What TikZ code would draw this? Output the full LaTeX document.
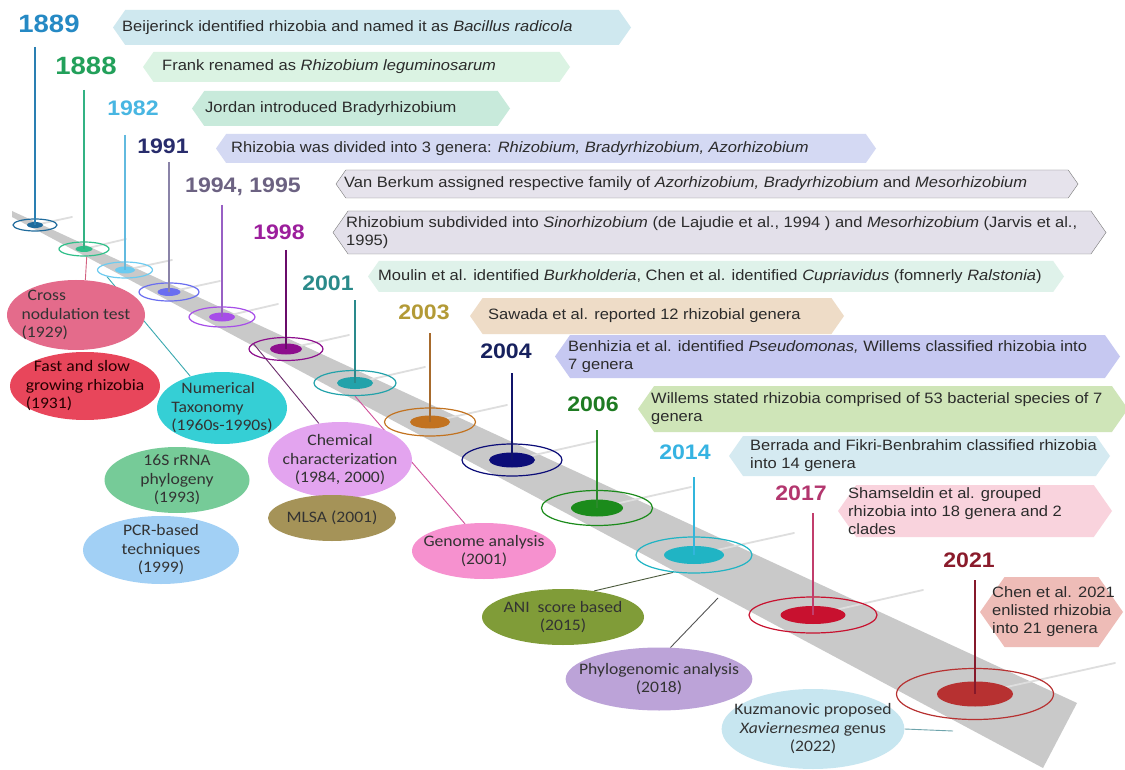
\documentclass[tikz,border=0pt]{standalone}
\usepackage{fontspec}
\setmainfont{Liberation Sans}[FakeStretch=1.1]
\newfontfamily\elipfont{Carlito}[FakeStretch=1.1]
\usepackage{tikz}
\usetikzlibrary{shapes.geometric}

\pgfdeclarelayer{franja}
\pgfdeclarelayer{enlaces}
\pgfsetlayers{franja,enlaces,main}

% colores
\definecolor{banda}{HTML}{C9C9C9}
\definecolor{brillo}{HTML}{DEDEDE}
\definecolor{borde}{HTML}{7A7A7A}
\definecolor{texto}{HTML}{2B2B2B}
% anos
\definecolor{yr1889}{HTML}{2589C4}
\definecolor{yr1888}{HTML}{22A05A}
\definecolor{yr1982}{HTML}{48B6E2}
\definecolor{yr1991}{HTML}{282C6C}
\definecolor{yr1994}{HTML}{6C6282}
\definecolor{yr1998}{HTML}{9C1E9C}
\definecolor{yr2001}{HTML}{2A8A8A}
\definecolor{yr2003}{HTML}{B39A36}
\definecolor{yr2004}{HTML}{17215E}
\definecolor{yr2006}{HTML}{1E7B22}
\definecolor{yr2014}{HTML}{36B3E2}
\definecolor{yr2017}{HTML}{B3366E}
\definecolor{yr2021}{HTML}{8A1B2B}
% postes
\definecolor{pin1889}{HTML}{2A7FB2}
\definecolor{pin1888}{HTML}{33B283}
\definecolor{pin1982}{HTML}{62BADF}
\definecolor{pin1991}{HTML}{8A83A8}
\definecolor{pin1994}{HTML}{9860C4}
\definecolor{pin1998}{HTML}{6A0C6A}
\definecolor{pin2001}{HTML}{2A8A8C}
\definecolor{pin2003}{HTML}{A76A2C}
\definecolor{pin2004}{HTML}{11146A}
\definecolor{pin2006}{HTML}{2B8A2B}
\definecolor{pin2014}{HTML}{31B5DC}
\definecolor{pin2017}{HTML}{C23D6C}
\definecolor{pin2021}{HTML}{86192B}
% discos
\definecolor{disc1889}{HTML}{1F6B9C}
\definecolor{disc1888}{HTML}{2FBF89}
\definecolor{disc1982}{HTML}{6CCBF0}
\definecolor{disc1991}{HTML}{6A6EF0}
\definecolor{disc1994}{HTML}{A64EE8}
\definecolor{disc1998}{HTML}{8D0F8D}
\definecolor{disc2001}{HTML}{22A2AA}
\definecolor{disc2003}{HTML}{C2721F}
\definecolor{disc2004}{HTML}{0C0D78}
\definecolor{disc2006}{HTML}{1B8B1B}
\definecolor{disc2014}{HTML}{20B4C4}
\definecolor{disc2017}{HTML}{C8112F}
\definecolor{disc2021}{HTML}{B73131}
% cajas
\definecolor{bx1889}{HTML}{CFE8EF}
\definecolor{bx1888}{HTML}{DBF3E3}
\definecolor{bx1982}{HTML}{C8EADB}
\definecolor{bx1991}{HTML}{D4D9F3}
\definecolor{bx1994}{HTML}{E6E3EC}
\definecolor{bx1998}{HTML}{E3E0EA}
\definecolor{bx2001}{HTML}{DFF2EA}
\definecolor{bx2003}{HTML}{EEDCC7}
\definecolor{bx2004}{HTML}{C6C8F1}
\definecolor{bx2006}{HTML}{CFE5B8}
\definecolor{bx2014}{HTML}{D5EAF1}
\definecolor{bx2017}{HTML}{F9D3DD}
\definecolor{bx2021}{HTML}{EEBCB7}
% elipses
\definecolor{elCross}{HTML}{E46B8B}
\definecolor{elFast}{HTML}{E8465B}
\definecolor{elNum}{HTML}{35CFD5}
\definecolor{el16S}{HTML}{76CB98}
\definecolor{elPCR}{HTML}{A2D0F5}
\definecolor{elChem}{HTML}{E3A4EF}
\definecolor{elMLSA}{HTML}{A59358}
\definecolor{elGen}{HTML}{F691CF}
\definecolor{elANI}{HTML}{809C38}
\definecolor{elPhy}{HTML}{BCA3D8}
\definecolor{elKuz}{HTML}{C7E6F0}
% enlaces
\definecolor{lkCross}{HTML}{D2607F}
\definecolor{lkNum}{HTML}{3AA9B0}
\definecolor{lkChem}{HTML}{6B2A6B}
\definecolor{lkGen}{HTML}{D0509A}
\definecolor{lkANI}{HTML}{4B5A3C}
\definecolor{lkPhy}{HTML}{555555}
\definecolor{lkKuz}{HTML}{6EA4AC}

% caja con punta a ambos lados: nombre, izq, der, arriba, abajo, x texto, estilo, texto
\newcommand{\evbox}[8]{%
	\path[#7] (#2,{(#4+#5)/2}) -- ({#2+0.35*(#5-#4)},#4) -- ({#3-0.35*(#5-#4)},#4)
		-- (#3,{(#4+#5)/2}) -- ({#3-0.35*(#5-#4)},#5) -- ({#2+0.35*(#5-#4)},#5) -- cycle;
	\node[boxtext, anchor=west] (#1) at (#6,{(#4+#5)/2}) {#8};
}

\begin{document}
\begin{tikzpicture}[x=1pt, y=-1pt,
	boxtext/.style={font=\fontsize{15}{18}\selectfont, text=texto, align=left, inner sep=0pt},
	yearlbl/.style={font=\bfseries\fontsize{21}{21}\selectfont, inner sep=0pt},
	ring/.style={ellipse, draw, line width=1.2pt, inner sep=0pt},
	disc/.style={ellipse, draw=none, inner sep=0pt},
	pinline/.style={line width=2.4pt},
	spike/.style={draw=brillo, line width=1.8pt, line cap=round},
	elip/.style={ellipse, inner xsep=-14pt, inner ysep=-6pt, align=center, text=black!80,
		font=\elipfont\fontsize{16}{18.5}\selectfont},
	link/.style={line width=0.9pt}]

			\useasboundingbox (0,0) rectangle (1125,770);

			% cajas
			\evbox{b1889}{113}{631}{10}{45}{122}{fill=bx1889}{Beijerinck identified rhizobia and named it as \textit{Bacillus radicola}}
			\evbox{b1888}{143}{570}{52}{82}{162}{fill=bx1888}{Frank renamed as \textit{Rhizobium leguminosarum}}
			\evbox{b1982}{192}{510}{91}{126}{205}{fill=bx1982}{Jordan introduced Bradyrhizobium}
			\evbox{b1991}{216}{876}{134}{163}{231}{fill=bx1991}{Rhizobia was divided into 3 genera: \textit{Rhizobium, Bradyrhizobium, Azorhizobium}}
			\evbox{b1994}{336}{1078}{170}{198}{344}{fill=bx1994, draw=borde}{Van Berkum assigned respective family of \textit{Azorhizobium, Bradyrhizobium} and \textit{Mesorhizobium}}
			\evbox{b1998}{333}{1106}{211}{254}{346}{fill=bx1998, draw=borde}{Rhizobium subdivided into \textit{Sinorhizobium} (de Lajudie et al., 1994 ) and \textit{Mesorhizobium} (Jarvis et al.,\\1995)}
			\evbox{b2001}{368}{1064}{261}{292}{378}{fill=bx2001}{Moulin et al. identified \textit{Burkholderia}, Chen et al. identified \textit{Cupriavidus} (fomnerly \textit{Ralstonia})}
			\evbox{b2003}{470}{844}{298}{334}{488}{fill=bx2003}{Sawada et al. reported 12 rhizobial genera}
			\evbox{b2004}{555}{1120}{335}{378}{568}{fill=bx2004}{Benhizia et al. identified \textit{Pseudomonas,} Willems classified rhizobia into\\7 genera}
			\evbox{b2006}{638}{1128}{386}{432}{651}{fill=bx2006}{Willems stated rhizobia comprised of 53 bacterial species of 7\\genera}
			\evbox{b2014}{729}{1110}{436}{476}{750}{fill=bx2014}{Berrada and Fikri-Benbrahim classified rhizobia\\into 14 genera}
			\evbox{b2017}{838}{1112}{485}{537}{848}{fill=bx2017}{Shamseldin et al. grouped\\rhizobia into 18 genera and 2\\clades}
			\evbox{b2021}{980}{1123}{577}{647}{992}{fill=bx2021}{Chen et al. 2021\\enlisted rhizobia\\into 21 genera}

			% anos
			\node[yearlbl, font=\bfseries\fontsize{25}{25}\selectfont, text=yr1889] (y1889) at (49,24) {1889};
			\node[yearlbl, font=\bfseries\fontsize{25}{25}\selectfont, text=yr1888] (y1888) at (86,66) {1888};
			\node[yearlbl, text=yr1982] (y1982) at (133,108) {1982};
			\node[yearlbl, text=yr1991] (y1991) at (163,146) {1991};
			\node[yearlbl, text=yr1994] (y1994) at (243,187) {1994, 1995};
			\node[yearlbl, text=yr1998] (y1998) at (279,232) {1998};
			\node[yearlbl, text=yr2001] (y2001) at (328,283) {2001};
			\node[yearlbl, text=yr2003] (y2003) at (424,312) {2003};
			\node[yearlbl, text=yr2004] (y2004) at (506,351) {2004};
			\node[yearlbl, text=yr2006] (y2006) at (593,404) {2006};
			\node[yearlbl, text=yr2014] (y2014) at (685,452) {2014};
			\node[yearlbl, text=yr2017] (y2017) at (801,493) {2017};
			\node[yearlbl, text=yr2021] (y2021) at (969,560) {2021};

			% elipses
			\node[elip, fill=elCross, align=left, minimum width=138, minimum height=70] (eCross) at (76,315) {\hspace{6pt}Cross\\nodulation test\\(1929)};
			\node[elip, fill=elFast, align=left, text=black!85!red, minimum width=150, minimum height=68] (eFast) at (85,386) {\hspace{8pt}Fast and slow\\growing rhizobia\\(1931)};
			\node[elip, fill=elNum, align=left, minimum width=130, minimum height=72] (eNum) at (222,408) {\hspace{10pt}Numerical\\Taxonomy\\(1960s-1990s)};
			\node[elip, fill=el16S, minimum width=145, minimum height=66] (e16S) at (177,480) {16S rRNA\\phylogeny\\(1993)};
			\node[elip, fill=elPCR, minimum width=156, minimum height=68] (ePCR) at (161,550) {PCR-based\\techniques\\(1999)};
			\node[elip, fill=elChem, minimum width=144, minimum height=76] (eChem) at (340,460) {Chemical\\characterization\\(1984, 2000)};
			\node[elip, fill=elMLSA, minimum width=128, minimum height=46] (eMLSA) at (332,518) {MLSA (2001)};
			\node[elip, fill=elGen, minimum width=144, minimum height=56] (eGen) at (484,551) {Genome analysis\\(2001)};
			\node[elip, fill=elANI, minimum width=162, minimum height=56] (eANI) at (563,617) {ANI~~score based\\(2015)};
			\node[elip, fill=elPhy, minimum width=182, minimum height=63] (ePhy) at (659,679) {Phylogenomic analysis\\(2018)};
			\node[elip, fill=elKuz, minimum width=182, minimum height=80] (eKuz) at (813,729) {Kuzmanovic proposed\\\textit{Xaviernesmea} genus\\(2022)};

			% anillos
			\node[ring, draw=disc1889, minimum width=44, minimum height=12] (r1889) at (35,225) {};
			\node[ring, draw=disc1888, minimum width=50, minimum height=14] (r1888) at (84,249) {};
			\node[ring, draw=disc1982, minimum width=55, minimum height=16] (r1982) at (125,270) {};
			\node[ring, draw=disc1991, minimum width=60, minimum height=18] (r1991) at (169,292) {};
			\node[ring, draw=disc1994, minimum width=66, minimum height=20] (r1994) at (222,317) {};
			\node[ring, draw=disc1998, minimum width=74, minimum height=23] (r1998) at (286,349) {};
			\node[ring, draw=disc2001, minimum width=82, minimum height=25] (r2001) at (355,383) {};
			\node[ring, draw=disc2003, minimum width=91, minimum height=28] (r2003) at (430,422) {};
			\node[ring, draw=disc2004, minimum width=100, minimum height=32] (r2004) at (512,460) {};
			\node[ring, draw=disc2006, minimum width=111, minimum height=35] (r2006) at (597,508) {};
			\node[ring, draw=disc2014, minimum width=116, minimum height=36] (r2014) at (694,555) {};
			\node[ring, draw=disc2017, minimum width=128, minimum height=36] (r2017) at (813,615) {};
			\node[ring, draw=disc2021, minimum width=157, minimum height=51] (r2021) at (975,694) {};

			% discos
			\node[disc, fill=disc1889, minimum width=16, minimum height=6] (d1889) at (r1889) {};
			\node[disc, fill=disc1888, minimum width=17, minimum height=6] (d1888) at (r1888) {};
			\node[disc, fill=disc1982, minimum width=20, minimum height=7] (d1982) at (r1982) {};
			\node[disc, fill=disc1991, minimum width=23, minimum height=8] (d1991) at (r1991) {};
			\node[disc, fill=disc1994, minimum width=26, minimum height=9] (d1994) at (r1994) {};
			\node[disc, fill=disc1998, minimum width=32, minimum height=11] (d1998) at (r1998) {};
			\node[disc, fill=disc2001, minimum width=36, minimum height=12] (d2001) at (r2001) {};
			\node[disc, fill=disc2003, minimum width=40, minimum height=13] (d2003) at (r2003) {};
			\node[disc, fill=disc2004, minimum width=46, minimum height=15] (d2004) at (r2004) {};
			\node[disc, fill=disc2006, minimum width=52, minimum height=17] (d2006) at (r2006) {};
			\node[disc, fill=disc2014, minimum width=60, minimum height=18] (d2014) at (r2014) {};
			\node[disc, fill=disc2017, minimum width=65, minimum height=18] (d2017) at (r2017) {};
			\node[disc, fill=disc2021, minimum width=76, minimum height=25] (d2021) at (r2021) {};

			% postes
			\coordinate (t1889) at (35,47);
			\coordinate (t1888) at (84,90);
			\coordinate (t1982) at (125,135);
			\coordinate (t1991) at (169,162);
			\coordinate (t1994) at (222,205);
			\coordinate (t1998) at (286,250);
			\coordinate (t2001) at (355,300);
			\coordinate (t2003) at (430,333);
			\coordinate (t2004) at (512,373);
			\coordinate (t2006) at (597,430);
			\coordinate (t2014) at (694,477);
			\coordinate (t2017) at (813,513);
			\coordinate (t2021) at (975,580);
			\path[pinline]
			(t1889) edge[draw=pin1889] (d1889.center)
			(t1888) edge[draw=pin1888] (d1888.center)
			(t1982) edge[draw=pin1982] (d1982.center)
			(t1991) edge[draw=pin1991] (d1991.center)
			(t1994) edge[draw=pin1994] (d1994.center)
			(t1998) edge[draw=pin1998] (d1998.center)
			(t2001) edge[draw=pin2001] (d2001.center)
			(t2003) edge[draw=pin2003] (d2003.center)
			(t2004) edge[draw=pin2004] (d2004.center)
			(t2006) edge[draw=pin2006] (d2006.center)
			(t2014) edge[draw=pin2014] (d2014.center)
			(t2017) edge[draw=pin2017] (d2017.center)
			(t2021) edge[draw=pin2021] (d2021.center);

			% franja y brillos
			\begin{pgfonlayer}{franja}
				\fill[white] (0,0) rectangle (1125,770);
				\fill[banda] (12,211) -- (1077,703) -- (1043,768) -- (12,217) -- cycle;
				\path[spike]
				(d1889.center) -- ++(37,-8)
				(d1888.center) -- ++(42,-10)
				(d1982.center) -- ++(47,-10)
				(d1991.center) -- ++(51,-11)
				(d1994.center) -- ++(56,-13)
				(d1998.center) -- ++(63,-14)
				(d2001.center) -- ++(70,-16)
				(d2003.center) -- ++(77,-17)
				(d2004.center) -- ++(85,-19)
				(d2006.center) -- ++(94,-21)
				(d2014.center) -- ++(100,-22)
				(d2017.center) -- ++(110,-25)
				(d2021.center) -- ++(140,-31);
			\end{pgfonlayer}

			% enlaces
			\coordinate (phyEnd) at (718,598);
			\coordinate (kuzEnd) at (953,731);
			\begin{pgfonlayer}{enlaces}
				\path[link]
				(eCross.75) edge[draw=lkCross] (r1888.290)
				(r1982.200) edge[draw=lkNum] (eNum.135)
				(r1998.170) edge[draw=lkChem] (eChem.120)
				(r2001.south) edge[draw=lkGen] (eGen.125)
				(r2014.220) edge[draw=lkANI] (eANI.40)
				(ePhy.70) edge[draw=lkPhy] (phyEnd)
				(eKuz.east) edge[draw=lkKuz] (kuzEnd);
			\end{pgfonlayer}
\end{tikzpicture}
\end{document}
